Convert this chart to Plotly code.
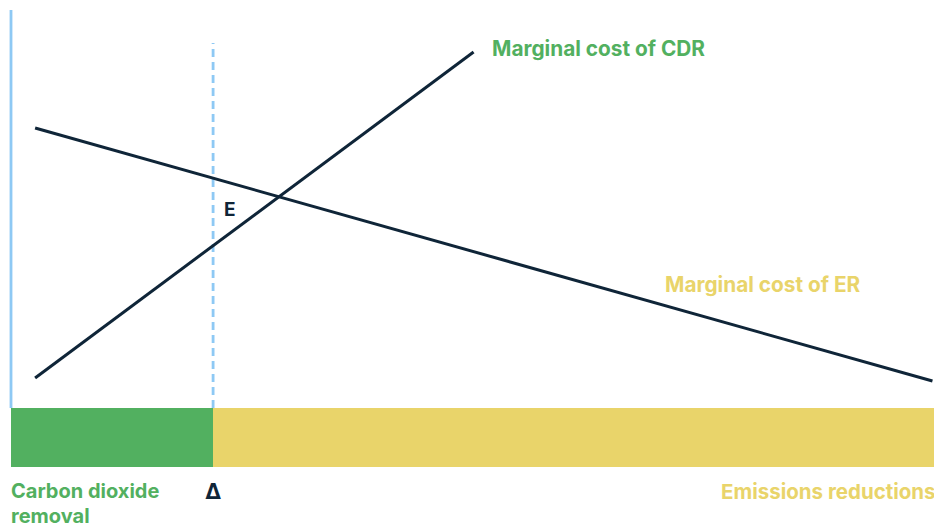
import plotly.graph_objects as go

# Schematic data (quantity of abatement on x, marginal cost on y)
cdr_x = [2.6, 49.9]
cdr_y = [7.5, 89.0]
er_x = [2.6, 99.4]
er_y = [70.0, 6.75]
delta_x = 21.8
dash_top = 91.25
axis_top = 99.5
bar_depth = 14.75
x_max = 100.0

COLORS = {
    'navy': '#0f2538',
    'green': '#52b060',
    'yellow': '#e9d46a',
    'blue': '#8ec9f4',
}
FONT = 'Inter'

fig = go.Figure()

# left axis line
fig.add_trace(go.Scatter(x=[0, 0], y=[0, axis_top], mode='lines', cliponaxis=False,
                         line=dict(color=COLORS['blue'], width=2.8), hoverinfo='skip'))
# delta dashed line
fig.add_trace(go.Scatter(x=[delta_x, delta_x], y=[0, dash_top], mode='lines',
                         line=dict(color=COLORS['blue'], width=2.8, dash='8px,5px'), hoverinfo='skip'))

# bars: CDR share and ER share
fig.add_trace(go.Bar(y=[-bar_depth / 2], x=[delta_x], base=[0], orientation='h', width=[bar_depth],
                     marker=dict(color=COLORS['green'], line_width=0), hoverinfo='skip'))
fig.add_trace(go.Bar(y=[-bar_depth / 2], x=[x_max - delta_x], base=[delta_x], orientation='h', width=[bar_depth],
                     marker=dict(color=COLORS['yellow'], line_width=0), hoverinfo='skip'))

# marginal cost curves
fig.add_trace(go.Scatter(x=cdr_x, y=cdr_y, mode='lines',
                         line=dict(color=COLORS['navy'], width=3), hoverinfo='skip'))
fig.add_trace(go.Scatter(x=er_x, y=er_y, mode='lines',
                         line=dict(color=COLORS['navy'], width=3), hoverinfo='skip'))

def label(text, x, y, color, xanchor='left', size=20):
    fig.add_annotation(x=x, y=y, text=text, showarrow=False, xanchor=xanchor, yanchor='middle',
                       xshift=-2 if xanchor == 'left' else 0,
                       font=dict(family=FONT, size=size, color=color, weight=700))

label('Marginal cost of CDR', 51.9, 90.0, COLORS['green'], size=20.8)
label('Marginal cost of ER', 70.5, 31.0, COLORS['yellow'], size=20.8)
label('E', 23.0, 49.75, COLORS['navy'], size=19)
label('Δ', delta_x, -20.75, COLORS['navy'], xanchor='center', size=22)
label('Carbon dioxide', 0, -20.75, COLORS['green'])
label('removal', 0, -27.0, COLORS['green'])
label('Emissions reductions', x_max, -20.75, COLORS['yellow'], xanchor='right', size=20.5)

# page has an 8px body margin, so the figure is drawn 8px smaller
fig.update_layout(
    width=934, height=521,
    margin=dict(l=0, r=0, t=0, b=0),
    paper_bgcolor='white', plot_bgcolor='white',
    showlegend=False,
    barmode='overlay', bargap=0,
    xaxis=dict(range=[-0.324, 100.43], visible=False, fixedrange=True),
    yaxis=dict(range=[-30.25, 100.0], visible=False, fixedrange=True),
)

fig.write_html("out.html")
